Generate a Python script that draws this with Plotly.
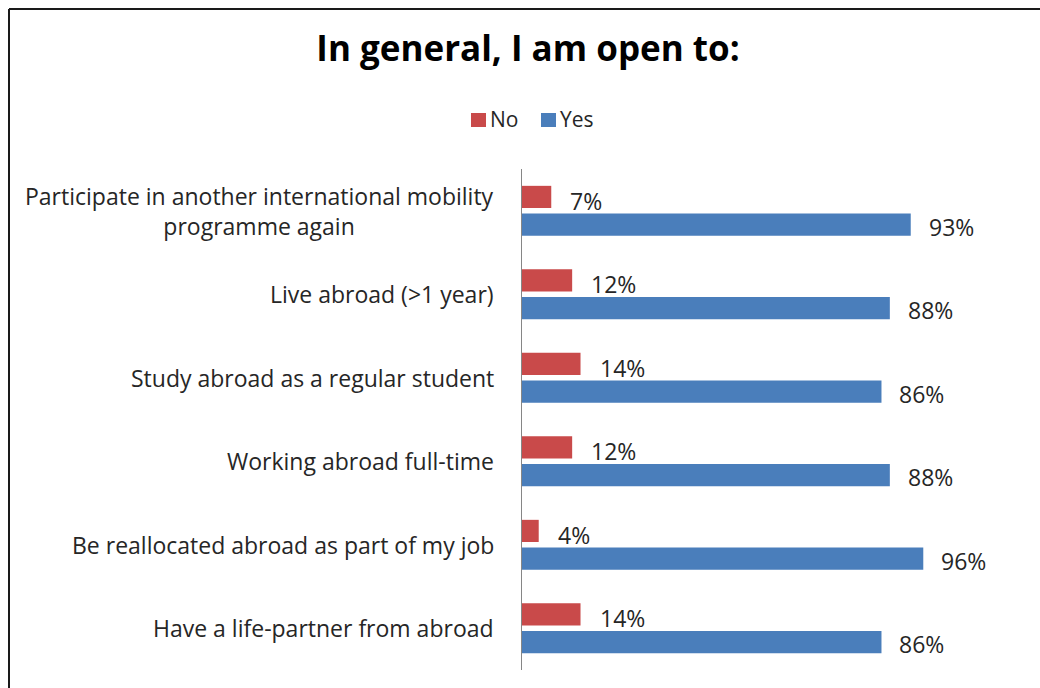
import plotly.graph_objects as go

# Survey items and answer shares (percent)
categories = [
    "Participate in another international mobility<br>programme again",
    "Live abroad (>1 year)",
    "Study abroad as a regular student",
    "Working abroad full-time",
    "Be reallocated abroad as part of my job",
    "Have a life-partner from abroad",
]
no_values = [7, 12, 14, 12, 4, 14]
yes_values = [93, 88, 86, 88, 96, 86]
series_names = ["No", "Yes"]
title_text = "In general, I am open to:"

RED = "#C94A4A"
BLUE = "#4A7EBB"
TEXT_COLOR = "#262626"
LABEL_FONT = dict(family="Open Sans", size=23, color=TEXT_COLOR)

W, H = 1040, 688
M_L, M_R, M_T, M_B = 522, 100, 169, 18
PLOT_W = W - M_L - M_R
PLOT_H = H - M_T - M_B
BARGAP = 0.337


def px_to_paper_x(px):
    return (px - M_L) / PLOT_W


def px_to_paper_y(py):
    return 1 - (py - M_T) / PLOT_H


colors = [RED, BLUE]
fig = go.Figure()
for name, vals, col in zip(series_names, [no_values, yes_values], colors):
    fig.add_trace(go.Bar(y=categories, x=vals, name=name, orientation="h",
                         marker=dict(color=col, line=dict(width=0))))

annotations = []
# category labels, centered multi-line text aligned against the axis
for cat in categories:
    annotations.append(dict(
        x=0, y=cat, xref="x", yref="y", text=cat, showarrow=False,
        xanchor="right", yanchor="middle", align="center", xshift=-26,
        font=LABEL_FONT,
    ))

# value labels beside each bar
slot = PLOT_H / len(categories) * (1 - BARGAP) / 2
for cat, n, y in zip(categories, no_values, yes_values):
    annotations.append(dict(
        x=n, y=cat, xref="x", yref="y", text=f"{n}%", showarrow=False,
        xanchor="left", yanchor="middle", xshift=17, yshift=slot / 2 - 4,
        font=LABEL_FONT,
    ))
    annotations.append(dict(
        x=y, y=cat, xref="x", yref="y", text=f"{y}%", showarrow=False,
        xanchor="left", yanchor="middle", xshift=16, yshift=-slot / 2 - 2,
        font=LABEL_FONT,
    ))

# chart frame (left and top edges)
shapes = [
    dict(type="line", xref="paper", yref="paper",
         x0=px_to_paper_x(9), x1=px_to_paper_x(9),
         y0=px_to_paper_y(9), y1=px_to_paper_y(H + 10),
         line=dict(color="#1a1a1a", width=2)),
    dict(type="line", xref="paper", yref="paper",
         x0=px_to_paper_x(9), x1=px_to_paper_x(W + 10),
         y0=px_to_paper_y(9), y1=px_to_paper_y(9),
         line=dict(color="#1a1a1a", width=2)),
]

# legend: colour key squares followed by series names
legend_left = [471, 541]
for name, col, lx in zip(series_names, colors, legend_left):
    shapes.append(dict(type="rect", xref="paper", yref="paper",
                       x0=px_to_paper_x(lx), x1=px_to_paper_x(lx + 15),
                       y0=px_to_paper_y(113), y1=px_to_paper_y(127),
                       fillcolor=col, line=dict(width=0)))
    annotations.append(dict(x=px_to_paper_x(lx + 17), y=px_to_paper_y(119),
                            xref="paper", yref="paper", text=name,
                            showarrow=False, xanchor="left", yanchor="middle",
                            font=dict(family="Open Sans", size=21, color=TEXT_COLOR)))

fig.update_layout(
    width=W, height=H,
    margin=dict(l=M_L, r=M_R, t=M_T, b=M_B),
    paper_bgcolor="white", plot_bgcolor="white",
    barmode="group", bargap=BARGAP, bargroupgap=0.2,
    title=dict(text=f"<b>{title_text}</b>", x=528 / W, xanchor="center",
               y=1 - 49 / H, yanchor="middle", xref="container", yref="container",
               font=dict(family="Open Sans", size=35, color="#000000")),
    showlegend=False,
    xaxis=dict(range=[0, 100], showgrid=False, zeroline=False,
               showticklabels=False, showline=False, fixedrange=True),
    yaxis=dict(autorange="reversed", showgrid=False, zeroline=False,
               showticklabels=False, showline=True, linecolor="#868686",
               linewidth=1, ticks=""),
    annotations=annotations,
    shapes=shapes,
)

fig.write_html("out.html")
